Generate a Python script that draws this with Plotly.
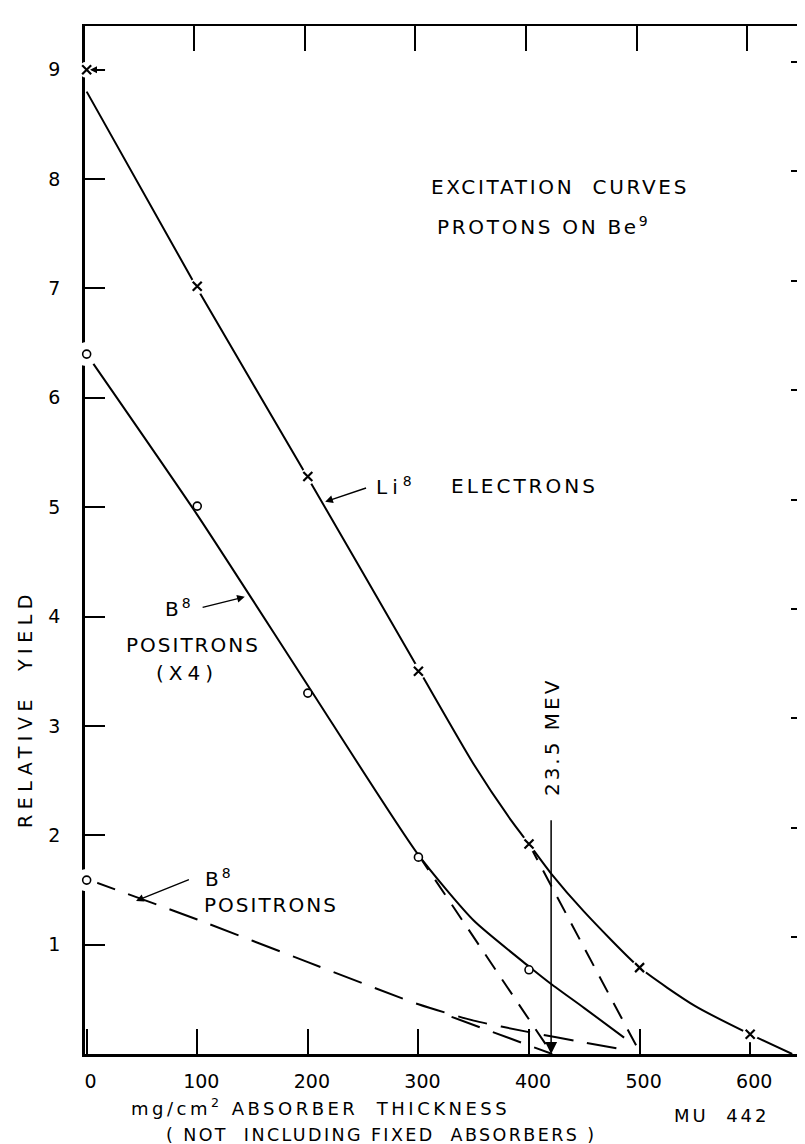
import plotly.graph_objects as go

FONT = "DejaVu Sans"

# ---------------- data ----------------
thickness = [0, 100, 200, 300, 400, 500, 600]            # mg/cm^2
li8_points = [9.0, 7.02, 5.28, 3.50, 1.92, 0.79, 0.18]    # Li8 electrons (x)

b8x4_thick = [0, 100, 200, 300, 400]
b8x4_points = [6.40, 5.01, 3.30, 1.80, 0.77]              # B8 positrons x4 (o)

b8_thick = [0]
b8_points = [1.59]                                        # B8 positrons (o)

li8_curve_x = [0, 100, 200, 300, 350, 385, 400, 420, 450, 500, 550, 600, 638]
li8_curve_y = [8.8, 7.0, 5.27, 3.52, 2.65, 2.12, 1.92, 1.65, 1.30, 0.79, 0.44, 0.18, 0.0]

b8x4_curve_x = [0, 100, 200, 300, 350, 400, 420, 450, 486]
b8x4_curve_y = [6.4, 4.93, 3.37, 1.82, 1.22, 0.80, 0.64, 0.42, 0.15]

b8_curve_x = [0, 100, 200, 300, 350, 400, 450, 486]
b8_curve_y = [1.6, 1.23, 0.84, 0.455, 0.305, 0.20, 0.105, 0.04]

li8_extrap_x = [400, 501]
li8_extrap_y = [1.92, 0.0]
b8x4_extrap_x = [300, 421]
b8x4_extrap_y = [1.82, 0.0]
b8_extrap_x = [330, 421]
b8_extrap_y = [0.34, 0.0]

threshold_x = 420
threshold_label = "23.5 MEV"

x_ticks = [0, 100, 200, 300, 400, 500, 600]
x_ticktext = ["0", "100", "200", "300", "400", "500", "600"]
y_ticks = [1, 2, 3, 4, 5, 6, 7, 8, 9]
y_ticktext = ["1", "2", "3", "4", "5", "6", "7", "8", "9"]

# ---------------- figure ----------------
fig = go.Figure()

def line(x, y, dash="solid", smooth=True):
    fig.add_trace(go.Scatter(
        x=x, y=y, mode="lines",
        line=dict(color="black", width=2, dash=dash,
                  shape="spline" if smooth else "linear", smoothing=0.6),
        hoverinfo="skip", showlegend=False))

line(li8_curve_x, li8_curve_y)
line(b8x4_curve_x, b8x4_curve_y)
line(b8_curve_x, b8_curve_y, dash="30px,14px")
line(li8_extrap_x, li8_extrap_y, dash="18px,12px", smooth=False)
line(b8x4_extrap_x, b8x4_extrap_y, dash="18px,12px", smooth=False)
line(b8_extrap_x, b8_extrap_y, dash="30px,14px", smooth=False)

def halo(x, y, size):
    fig.add_trace(go.Scatter(
        x=x, y=y, mode="markers", cliponaxis=False,
        marker=dict(symbol="circle", size=size, color="white", line=dict(width=0)),
        hoverinfo="skip", showlegend=False))

halo(thickness, li8_points, 16)
halo(b8x4_thick[:1], b8x4_points[:1], 24)
halo(b8_thick, b8_points, 22)

fig.add_trace(go.Scatter(
    x=thickness, y=li8_points, mode="markers", cliponaxis=False,
    marker=dict(symbol="x-thin", size=9, color="black",
                line=dict(width=2.2, color="black")),
    name="Li8 electrons", showlegend=False))
fig.add_trace(go.Scatter(
    x=b8x4_thick, y=b8x4_points, mode="markers", cliponaxis=False,
    marker=dict(symbol="circle", size=8, color="white",
                line=dict(width=1.6, color="black")),
    name="B8 positrons (x4)", showlegend=False))
fig.add_trace(go.Scatter(
    x=b8_thick, y=b8_points, mode="markers", cliponaxis=False,
    marker=dict(symbol="circle", size=8, color="white",
                line=dict(width=1.6, color="black")),
    name="B8 positrons", showlegend=False))

# invisible trace to activate the mirrored (top / right) tick axes
fig.add_trace(go.Scatter(x=[100], y=[1], xaxis="x2", yaxis="y2", mode="markers",
                         marker=dict(opacity=0), hoverinfo="skip", showlegend=False))

def sp(text, px):
    return '<span style="letter-spacing:%spx">%s</span>' % (px, text)

ann = []
def label(text, x, y, size=20, xanchor="center", yanchor="middle", angle=0,
          ref="data"):
    xr, yr = ("x", "y") if ref == "data" else ("paper", "paper")
    ann.append(dict(text=text, x=x, y=y, xref=xr, yref=yr, showarrow=False,
                    xanchor=xanchor, yanchor=yanchor, textangle=angle,
                    font=dict(family=FONT, size=size, color="black")))

def arrow(x, y, ax, ay, head=2, size=1.1, width=1.4):
    ann.append(dict(text="", x=x, y=y, ax=ax, ay=ay, xref="x", yref="y",
                    axref="x", ayref="y", showarrow=True, arrowhead=head,
                    arrowsize=size, arrowwidth=width, arrowcolor="black",
                    standoff=0, startstandoff=0))

label(sp("EXCITATION&nbsp;&nbsp;CURVES", 2.7), 310, 7.93, xanchor="left")
label(sp("PROTONS&nbsp;ON&nbsp;Be<sup>9</sup>", 2.7), 315, 7.57, xanchor="left")
label(sp("Li<sup>8</sup>", 5), 260, 5.19, xanchor="left")
label(sp("ELECTRONS", 3), 328, 5.19, xanchor="left")
label(sp("B<sup>8</sup>", 3), 69, 4.08, xanchor="left")
label(sp("POSITRONS", 2), 96, 3.74)
label(sp("(X4)", 5), 91, 3.48)
label(sp("B<sup>8</sup>", 3), 105, 1.61, xanchor="left")
label(sp("POSITRONS", 2), 104, 1.365, xanchor="left")
label(sp(threshold_label, 3), threshold_x + 1, 2.9, angle=-90)

# texts outside the plotting area (paper coordinates)
label(sp("RELATIVE&nbsp;&nbsp;YIELD", 5.5), -0.0826, 0.3356, size=19, angle=-90, ref="paper")
label(sp("mg/cm<sup>2</sup>&nbsp;ABSORBER&nbsp;&nbsp;THICKNESS", 3.5), 0.3237, -0.0515,
      size=18, ref="paper")
label(sp("(&nbsp;NOT&nbsp;&nbsp;INCLUDING&nbsp;FIXED&nbsp;&nbsp;ABSORBERS&nbsp;)", 2.4), 0.4077,
      -0.0785, size=17.5, ref="paper")
label(sp("MU&nbsp;&nbsp;442", 3), 0.877, -0.0603, size=18, ref="paper")

arrow(3, 9.0, 18, 9.0, size=1.0)
arrow(215.7, 5.05, 254, 5.18)
arrow(143, 4.18, 103.5, 4.08)
arrow(44.6, 1.40, 93.8, 1.60)
arrow(threshold_x, 0.0, threshold_x, 2.15, head=2, size=1.6, width=1.5)

axis_font = dict(family=FONT, size=19, color="black")
fig.update_layout(
    width=805, height=1144,
    margin=dict(l=77, r=2, t=18, b=98),
    paper_bgcolor="white", plot_bgcolor="white",
    showlegend=False,
    annotations=ann,
    xaxis=dict(range=[-1.5, 655], tickvals=x_ticks, ticktext=x_ticktext,
               ticks="inside", ticklen=25, tickwidth=1.6, tickcolor="black",
               showline=True, linewidth=2.5, linecolor="black",
               showgrid=False, zeroline=False, tickfont=axis_font,
               ticklabelstandoff=8, ticklabelshift=4, layer="below traces"),
    yaxis=dict(range=[0, 9.4], tickvals=y_ticks, ticktext=y_ticktext,
               ticks="inside", ticklen=20, tickwidth=1.6, tickcolor="black",
               showline=True, linewidth=2.5, linecolor="black",
               showgrid=False, zeroline=False, tickfont=axis_font,
               ticklabelstandoff=18, layer="below traces"),
    xaxis2=dict(overlaying="x", side="top", anchor="y", range=[1.2, 657.7],
                tickvals=[100, 200, 300, 400, 500, 600], showticklabels=False,
                ticks="inside", ticklen=25, tickwidth=1.6, tickcolor="black",
                showline=True, linewidth=2, linecolor="black",
                showgrid=False, zeroline=False, layer="below traces"),
    yaxis2=dict(overlaying="y", side="right", anchor="x", range=[-0.07, 9.33],
                tickvals=[1, 2, 3, 4, 5, 6, 7, 8, 9], showticklabels=False,
                ticks="inside", ticklen=20, tickwidth=1.6, tickcolor="black",
                showline=True, linewidth=2, linecolor="black",
                showgrid=False, zeroline=False, layer="below traces"),
)

fig.write_html("out.html")
